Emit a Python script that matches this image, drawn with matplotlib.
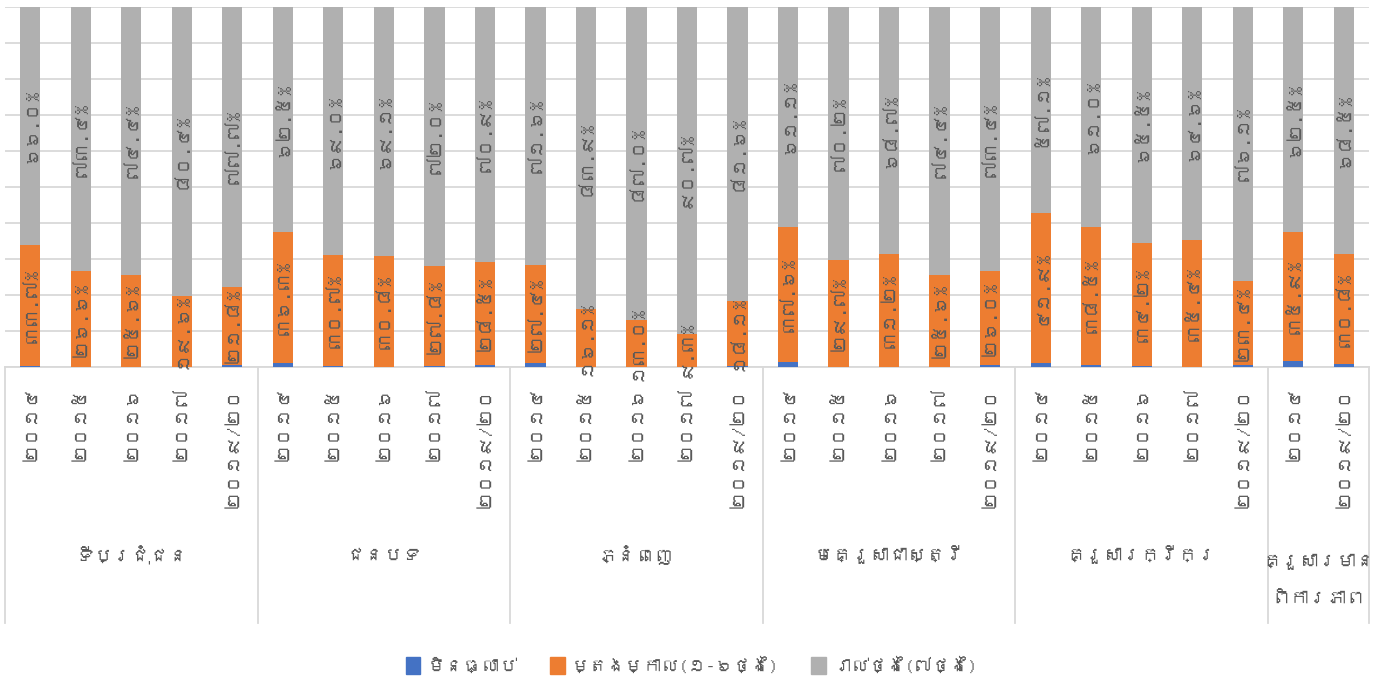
import numpy as np
import matplotlib
matplotlib.use("Agg")
import matplotlib.pyplot as plt
import matplotlib.font_manager as fm
from matplotlib.ft2font import FT2Font
from matplotlib.patches import Patch

# data (percent)
groups = ["ទីប្រជុំជន", "ជនបទ", "ភ្នំពេញ", "មេគ្រួសាជាស្ត្រី", "គ្រួសារក្រីក្រ", "គ្រួសារមាន\nពិការភាព"]
years5 = ["២០១៤", "២០១៥", "២០១៦", "២០១៧", "២០១៩/២០"]
years2 = ["២០១៤", "២០១៩/២០"]
group_sizes = [5, 5, 5, 5, 5, 2]
series_names = ["មិនធ្លាប់", "ម្តងម្កាល(១-៦ថ្ងៃ)", "រាល់ថ្ងៃ(៧ថ្ងៃ)"]

never = [0.3, 0.0, 0.0, 0.0, 0.5, 1.2, 0.3, 0.1, 0.2, 0.6, 1.0, 0.0, 0.0, 0.0, 0.3,
         1.3, 0.1, 0.1, 0.0, 0.6, 1.0, 0.5, 0.3, 0.0, 0.5, 1.6, 0.7]
sometimes = [33.7, 26.6, 25.6, 19.6, 21.8, 36.3, 30.7, 30.8, 27.8, 28.5, 27.4, 16.1, 13.0, 9.3, 18.1,
             37.6, 29.7, 31.2, 25.6, 26.0, 41.9, 38.5, 34.2, 35.4, 23.4, 35.9, 30.8]
daily = [66.0, 73.4, 74.4, 80.4, 77.7, 62.5, 69.0, 69.1, 72.0, 70.9, 71.6, 83.9, 87.0, 90.7, 81.6,
         61.1, 70.2, 68.7, 74.4, 73.4, 57.1, 61.0, 65.5, 64.6, 76.1, 62.5, 68.5]

KHMER_DIGITS = "០១២៣៤៥៦៧៨៩"


def khmer_num(s):
    return "".join(KHMER_DIGITS[int(c)] if c.isdigit() else c for c in s)


def find_khmer_font():
    seen = set()
    for f in fm.fontManager.ttflist:
        if f.fname in seen:
            continue
        seen.add(f.fname)
        try:
            if 0x1780 in FT2Font(f.fname).get_charmap():
                return f.name
        except Exception:
            pass
    return None


kh = find_khmer_font()
fams = ([kh] if kh else []) + ["DejaVu Sans"]
plt.rcParams["font.family"] = fams

BLUE, ORANGE, GRAY = "#4472C4", "#ED7D31", "#B0B0B0"
TXT = "#595959"
GRID = "#D9D9D9"

fig = plt.figure(figsize=(13.83, 6.91), dpi=100)
ax = fig.add_axes([5 / 1383, 1 - 367 / 691, 1364 / 1383, 360 / 691])

ticklabels = []
for n in group_sizes:
    ticklabels += years5 if n == 5 else years2
x = np.arange(len(never)) + 0.5
never, sometimes, daily = map(np.array, (never, sometimes, daily))

w = 0.4
ax.bar(x, never, w, color=BLUE, zorder=3)
ax.bar(x, sometimes, w, bottom=never, color=ORANGE, zorder=3)
ax.bar(x, daily, w, bottom=never + sometimes, color=GRAY, zorder=3)

for xi, b, s, d in zip(x, never, sometimes, daily):
    ax.text(xi, b + s / 2, khmer_num(f"{s:.1f}%"), rotation=90, ha="center", va="center",
            fontsize=13.5, color=TXT, zorder=4)
    ax.text(xi, b + s + d / 2, khmer_num(f"{d:.1f}%"), rotation=90, ha="center", va="center",
            fontsize=13.5, color=TXT, zorder=4)

ax.set_xlim(0, len(x))
ax.set_ylim(0, 100)
ax.set_yticks(np.arange(0, 101, 10))
ax.yaxis.grid(True, color=GRID, lw=1.3)
ax.set_axisbelow(True)
ax.tick_params(axis="y", length=0, labelleft=False)
ax.set_xticks(x)
ax.set_xticklabels(ticklabels, rotation=90, va="top", ha="center", fontsize=13.5, color=TXT)
ax.tick_params(axis="x", length=0, pad=14)
for sp in ["top", "right", "left"]:
    ax.spines[sp].set_visible(False)
ax.spines["bottom"].set_color(GRID)
ax.spines["bottom"].set_linewidth(1.3)

# group separators and group labels
trans = ax.get_xaxis_transform()
bounds = np.concatenate([[0], np.cumsum(group_sizes)])
for bx in bounds:
    ax.plot([bx, bx], [0, -256 / 360], transform=trans, color=GRID, lw=1.3, clip_on=False)
for g, lo, hi in zip(groups, bounds[:-1], bounds[1:]):
    yc = -188 / 360 if "\n" not in g else -213 / 360
    ax.text((lo + hi) / 2, yc, g, transform=trans, ha="center", va="center",
            fontsize=13.5, color=TXT, linespacing=2.5)

handles = [Patch(color=c) for c in (BLUE, ORANGE, GRAY)]
fig.legend(handles, series_names, loc="center", bbox_to_anchor=(0.5, 1 - 665 / 691), ncol=3,
           frameon=False, fontsize=13, handlelength=0.8, handleheight=1.1, columnspacing=1.8,
           handletextpad=0.4, labelcolor=TXT)

fig.savefig("out.png", dpi=100)
